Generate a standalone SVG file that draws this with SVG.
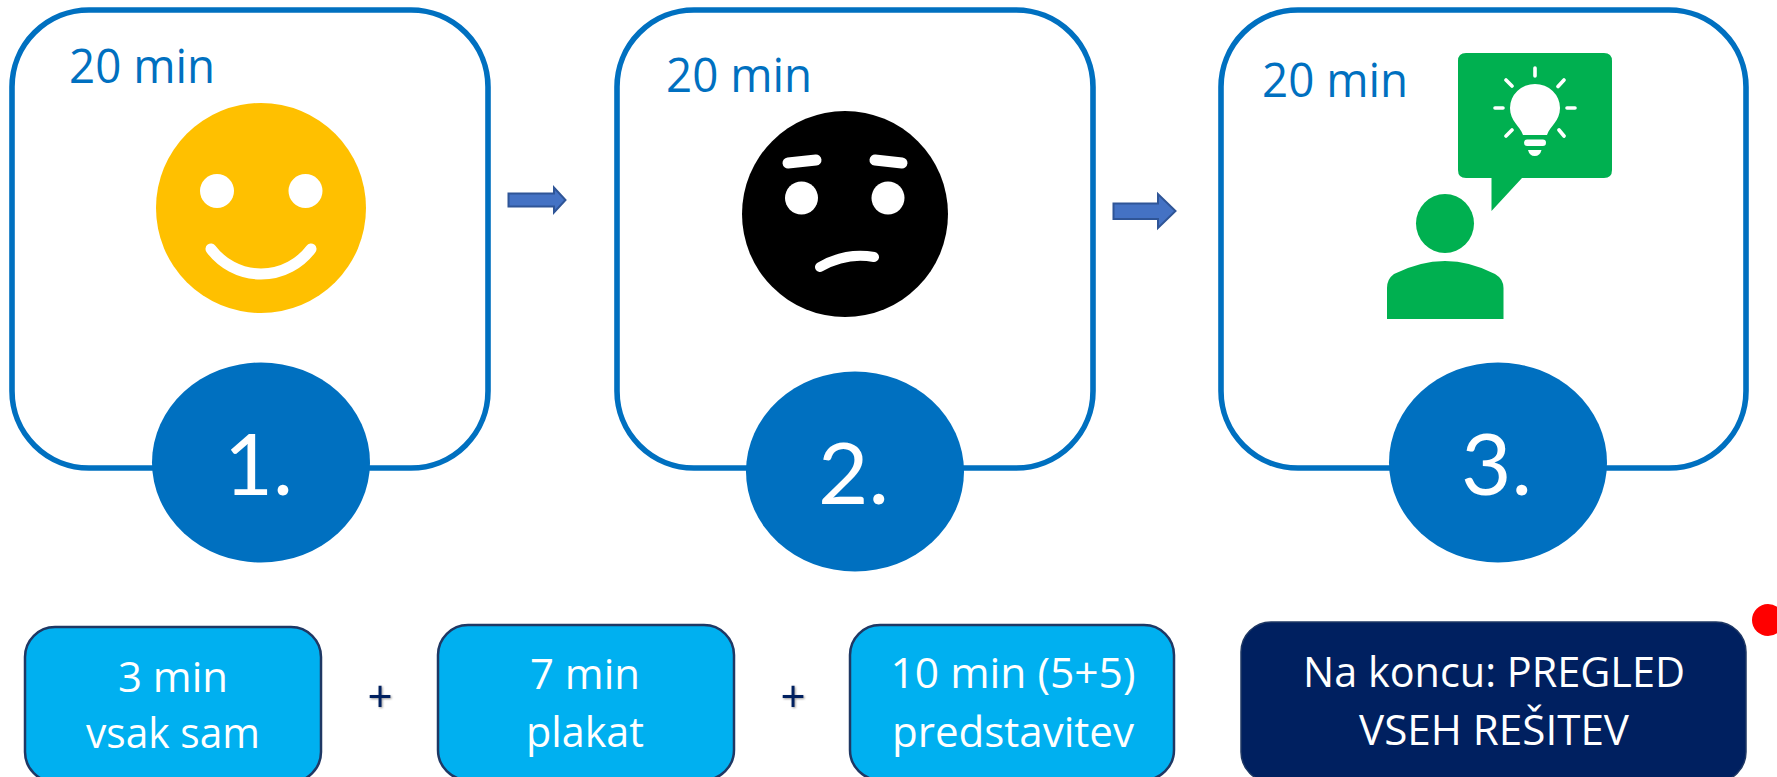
<svg xmlns="http://www.w3.org/2000/svg" width="1777" height="777" viewBox="0 0 1777 777">
<style>
text{font-family:"Open Sans","Noto Sans","Liberation Sans",sans-serif}
.card{fill:#fff;stroke:#0070C0;stroke-width:5.6}
.badge{fill:#0070C0}
.time{fill:#0070C0;font-size:48px}
.num{fill:#fff;font-size:86px;font-family:"Lato","Open Sans",sans-serif}
.lab{fill:#fff;font-size:42px;text-anchor:middle}
.box{fill:#00B0F0;stroke:#1F3864;stroke-width:2.5}
.face{fill:none;stroke:#fff;stroke-linecap:round}
.arrow{fill:#4472C4;stroke:#2F5597;stroke-width:2}
.plus{fill:#002060;font-size:44px;font-weight:400;text-anchor:middle;filter:drop-shadow(1px 1px 1px #999)}
.ray{stroke:#fff;stroke-width:3.6;stroke-linecap:round;fill:none}
</style>
<rect width="1777" height="777" fill="#fff"/>
<g id="connectors">
<path class="arrow" d="M508.500 193.500H554V187.500L565.500 200L554 212.500V206.500H508.500Z"/>
<path class="arrow" d="M1113.500 203.500H1158V194L1175.500 211L1158 228V219H1113.500Z"/>
</g>
<g id="step1">
<rect class="card" x="12" y="10" width="476" height="458" rx="77" ry="77"/>
<text class="time" x="69" y="83" textLength="146" lengthAdjust="spacingAndGlyphs">20 min</text>
<ellipse cx="261" cy="208" rx="105" ry="105" fill="#FFC000"/>
<ellipse cx="217" cy="191" rx="17" ry="17" fill="#fff"/>
<ellipse cx="305.500" cy="191" rx="17" ry="17" fill="#fff"/>
<path class="face" stroke-width="11" d="M211 249A62.500 62.500 0 0 0 311 249"/>
<ellipse class="badge" cx="261" cy="462.500" rx="109" ry="100"/>
<text class="num" x="224" y="495" textLength="69" lengthAdjust="spacingAndGlyphs">1.</text>
</g>
<g id="step2">
<rect class="card" x="617" y="10" width="476" height="458" rx="77" ry="77"/>
<text class="time" x="666" y="92" textLength="146" lengthAdjust="spacingAndGlyphs">20 min</text>
<ellipse cx="845" cy="214" rx="103" ry="103" fill="#000"/>
<ellipse cx="801.500" cy="198" rx="16.500" ry="16.500" fill="#fff"/>
<ellipse cx="888" cy="198" rx="16.500" ry="16.500" fill="#fff"/>
<path class="face" stroke-width="11" d="M788 163L816 160M875 160L902 163"/>
<path class="face" stroke-width="10" d="M820 267Q846 252 874 257"/>
<ellipse class="badge" cx="855" cy="471.500" rx="109" ry="100"/>
<text class="num" x="818" y="504" textLength="71" lengthAdjust="spacingAndGlyphs">2.</text>
</g>
<g id="step3">
<rect class="card" x="1221" y="10" width="525" height="458" rx="77" ry="77"/>
<text class="time" x="1262" y="97" textLength="146" lengthAdjust="spacingAndGlyphs">20 min</text>
<path fill="#00B050" d="M1466 53H1604Q1612 53 1612 61V170Q1612 178 1604 178H1522L1491.500 211V178H1466Q1458 178 1458 170V61Q1458 53 1466 53Z"/>
<path fill="#fff" d="M1523 135C1520 126 1510 121 1510 108A25 24 0 0 1 1560 108C1560 121 1550 126 1547 135Z"/>
<rect x="1524" y="139.500" width="22" height="6.500" rx="3.200" fill="#fff"/>
<path fill="#fff" d="M1528 150H1541.500Q1540 156 1534.700 156Q1529.500 156 1528 150Z"/>
<path class="ray" d="M1535 68V76M1506 80L1512 86M1564 80L1558 86.500M1495 108H1503M1567 108H1575M1512 130L1506 136M1559 130L1564 136"/>
<ellipse cx="1445" cy="223.500" rx="29" ry="29.500" fill="#00B050"/>
<path fill="#00B050" d="M1387 319V288Q1387 279 1394 274Q1420 261 1445 261Q1470 261 1495 274Q1503.500 279 1503.500 288V319Z"/>
<ellipse class="badge" cx="1498" cy="462.500" rx="109" ry="100"/>
<text class="num" x="1461" y="495" textLength="71" lengthAdjust="spacingAndGlyphs">3.</text>
</g>
<g id="box1">
<rect class="box" x="25" y="627" width="296" height="155" rx="30" ry="30"/>
<text class="lab" x="173" y="692" textLength="110" lengthAdjust="spacingAndGlyphs">3 min</text>
<text class="lab" x="173" y="748" textLength="174" lengthAdjust="spacingAndGlyphs">vsak sam</text>
</g>
<g id="plus1"><text class="plus" x="380" y="712">+</text></g>
<g id="box2">
<rect class="box" x="438" y="625" width="296" height="155" rx="30" ry="30"/>
<text class="lab" x="585" y="689" textLength="110" lengthAdjust="spacingAndGlyphs">7 min</text>
<text class="lab" x="585" y="747" textLength="118" lengthAdjust="spacingAndGlyphs">plakat</text>
</g>
<g id="plus2"><text class="plus" x="793" y="712">+</text></g>
<g id="box3">
<rect class="box" x="850" y="625" width="324" height="155" rx="30" ry="30"/>
<text class="lab" x="1013" y="688" textLength="245" lengthAdjust="spacingAndGlyphs">10 min (5+5)</text>
<text class="lab" x="1013" y="747" textLength="242" lengthAdjust="spacingAndGlyphs">predstavitev</text>
</g>
<g id="box4">
<rect x="1241" y="622" width="505" height="160" rx="30" ry="30" fill="#002060" stroke="#1F3864" stroke-width="1.500"/>
<text class="lab" x="1494" y="687" textLength="382" lengthAdjust="spacingAndGlyphs">Na koncu: PREGLED</text>
<text class="lab" x="1494" y="745" textLength="270" lengthAdjust="spacingAndGlyphs">VSEH REŠITEV</text>
</g>
<g id="dot"><ellipse cx="1768" cy="620" rx="16" ry="16" fill="#FF0000"/></g>
</svg>
